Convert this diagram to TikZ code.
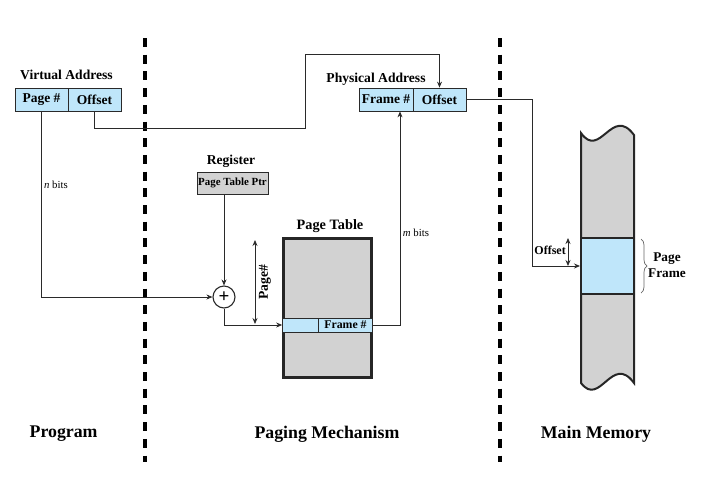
\documentclass[tikz,border=0pt]{standalone}
\usepackage{fontspec}
\setmainfont{Liberation Serif}[BoldFont={Liberation Serif Bold},ItalicFont={Liberation Serif Italic}]
\usetikzlibrary{arrows.meta,decorations.pathreplacing,calc}
\definecolor{lblue}{HTML}{BFE6FA}
\definecolor{lgray}{HTML}{D2D2D2}
\definecolor{lnc}{HTML}{2A2A2A}
\tikzset{
  cell/.style={draw=lnc, line width=0.8pt, fill=lblue, minimum height=23pt, inner sep=0pt, font=\fontsize{13.5}{15}\selectfont\bfseries},
  conn/.style={draw=lnc, line width=0.8pt},
  arr/.style={conn, -{Stealth[length=6pt,width=5pt]}},
  darr/.style={conn, {Stealth[length=6pt,width=5pt]}-{Stealth[length=6pt,width=5pt]}},
  lbl/.style={font=\fontsize{13.6}{15}\selectfont\bfseries, inner sep=0pt},
  biglbl/.style={font=\fontsize{17.8}{20}\selectfont\bfseries, inner sep=0pt},
  smalllbl/.style={font=\fontsize{10.8}{12}\selectfont, inner sep=0pt},
  sep/.style={line width=4.8pt, dash pattern=on 9pt off 7.7pt},
}
\begin{document}
\begin{tikzpicture}[x=1pt,y=-1pt]
\useasboundingbox (0,0) rectangle (704,488);
% separators
\draw[sep] (145,38) -- (145,462);
\draw[sep] (500,38) -- (500,462);
% virtual address
\node[lbl] (valbl) at (66.5,75) {Virtual Address};
\node[cell, minimum width=53pt] (vapage) at (41.5,99.5) {Page \#};
\node[cell, minimum width=53pt] (vaoff) at (94.5,99.5) {Offset};
% physical address
\node[lbl] (palbl) at (376,79) {Physical Address};
\node[cell, minimum width=54pt] (paframe) at (386,99.5) {Frame \#};
\node[cell, minimum width=53pt] (paoff) at (439.5,99.5) {Offset};
% register
\node[lbl] (reglbl) at (231,161) {Register};
\node[draw=lnc, line width=0.8pt, fill=lgray, minimum width=71pt, minimum height=22pt, inner sep=0pt, font=\fontsize{10.9}{12}\selectfont\bfseries] (reg) at (232.5,183) {Page Table Ptr};
% adder
\node[draw=lnc, line width=1.1pt, fill=white, circle, minimum size=22pt, inner sep=0pt, font=\fontsize{19}{19}\selectfont\bfseries] (plus) at (224,297) {+};
% page table
\node[lbl, font=\fontsize{14.3}{16}\selectfont\bfseries] (ptlbl) at (330,226) {Page Table};
\node[draw=black!85, line width=3pt, fill=lgray, minimum width=88pt, minimum height=139pt, inner sep=0pt] (pt) at (327.5,308) {};
\node[draw=lnc, line width=0.7pt, fill=lblue, minimum width=36pt, minimum height=14pt, inner sep=0pt] (ptrowl) at (300.5,325) {};
\node[draw=lnc, line width=0.7pt, fill=lblue, minimum width=54pt, minimum height=14pt, inner sep=0pt, font=\fontsize{11.8}{12}\selectfont\bfseries] (ptrowr) at (345.5,325) {Frame \#};
% main memory
\path[fill=lgray, draw=black!85, line width=2pt]
  (581,133) .. controls (600,160) and (612,105) .. (634,135)
  -- (634,383) .. controls (612,353) and (600,408) .. (581,383) -- cycle;
\node[draw=black!85, line width=2pt, fill=lblue, minimum width=53pt, minimum height=56pt, inner sep=0pt] (pf) at (607.5,266) {};
\draw[decorate, decoration={brace, amplitude=6pt}, draw=black!60, line width=0.7pt] (641,239) -- (641,293);
\node[lbl, align=center, font=\fontsize{13.3}{15}\selectfont\bfseries] (pflbl) at (667,265) {Page\\[1pt]Frame};
% connectors
\draw[arr] (vapage.south) |- (plus.west);
\node[smalllbl] (nbits) at (56,185) {\textit{n} bits};
\draw[arr] (vaoff.south) |- (305,128) -- (305,54) -| (paoff.north);
\draw[arr] (plus.north |- reg.south) -- (plus.north);
\draw[arr] (plus.south) |- (ptrowl.west);
\draw[darr] (255,240) -- (255,324);
\node[lbl, rotate=90] (pagenum) at (265,282) {Page\#};
\draw[arr] (ptrowr.east) -| ([xshift=14pt]paframe.south);
\node[smalllbl] (mbits) at (416,233) {\textit{m} bits};
\draw[arr] (paoff.east) -| (532,266) -- (pf.west);
\draw[darr] (568,238) -- (568,266);
\node[font=\fontsize{12}{13}\selectfont\bfseries, inner sep=0pt, anchor=east] (offlbl) at (566,250) {Offset};
% bottom labels
\node[biglbl] (prog) at (63.6,434) {Program};
\node[biglbl] (pagmech) at (327,434) {Paging Mechanism};
\node[biglbl] (mainmem) at (596,434) {Main Memory};
\end{tikzpicture}
\end{document}
